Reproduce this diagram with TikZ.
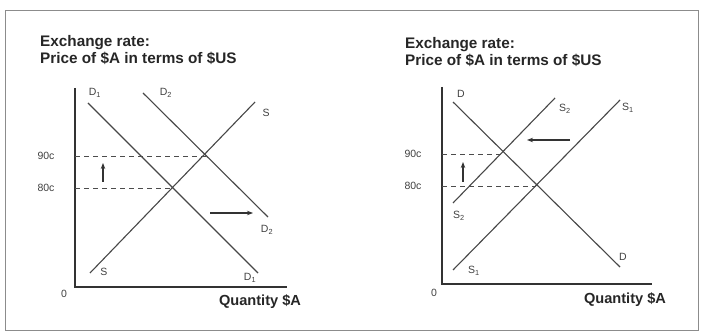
\documentclass[tikz,border=0pt]{standalone}
\usepackage{fontspec}
\setmainfont{Liberation Sans}
\usetikzlibrary{arrows.meta}
\begin{document}
\begin{tikzpicture}[x=1pt,y=-1pt,
  curve/.style={draw=black!72, line width=1.1pt},
  axis/.style={draw=black!80, line width=1.3pt},
  guide/.style={draw=black!70, line width=0.9pt, dash pattern=on 5pt off 4pt},
  shiftarrow/.style={draw=black!80, line width=1.1pt, -{Stealth[length=6pt,width=4.5pt]}},
  lab/.style={font=\fontsize{10.5}{12}\selectfont, text=black!75, inner sep=0pt},
  ttl/.style={font=\fontsize{15.3}{17.5}\selectfont\bfseries, text=black!85, align=left, inner sep=0pt, anchor=north west},
  qty/.style={font=\fontsize{14.6}{16}\selectfont\bfseries, text=black!85, inner sep=0pt},
]
\useasboundingbox (0,0) rectangle (701,336);
\draw[black!45, line width=0.9pt] (5,10) rectangle (698,330);

% ---------- left chart ----------
\node[ttl] (ltitle) at (40,35) {Exchange rate:\\Price of \$A in terms of \$US};
\coordinate (Ltop) at (75,88);
\coordinate (Lo) at (75,287);
\coordinate (Lx) at (287,287);
\draw[axis] (Ltop) -- (Lo) -- (Lx);

\coordinate (LD1a) at (88,103);  \coordinate (LD1b) at (258,273);
\coordinate (LD2a) at (143,93);  \coordinate (LD2b) at (268,217);
\coordinate (LSa) at (90,273);   \coordinate (LSb) at (255,102);
\draw[curve] (LD1a) -- (LD1b);
\draw[curve] (LD2a) -- (LD2b);
\draw[curve] (LSa) -- (LSb);

\coordinate (L90a) at (75,156);  \coordinate (L90b) at (206,156);
\coordinate (L80a) at (75,188);  \coordinate (L80b) at (172,188);
\draw[guide] (L90a) -- (L90b);
\draw[guide] (L80a) -- (L80b);

\coordinate (Lupa) at (103,182); \coordinate (Lupb) at (103,163);
\draw[shiftarrow] (Lupa) -- (Lupb);
\coordinate (Lra) at (210,213);  \coordinate (Lrb) at (253,213);
\draw[shiftarrow] (Lra) -- (Lrb);

\node[lab] (l90) at (46,156) {90c};
\node[lab] (l80) at (46,188) {80c};
\node[lab] (lD1t) at (95,93) {D\textsubscript{1}};
\node[lab] (lD2t) at (166,93) {D\textsubscript{2}};
\node[lab] (lSt) at (266,113) {S};
\node[lab] (lD2b) at (267,230) {D\textsubscript{2}};
\node[lab] (lSb) at (104,272) {S};
\node[lab] (lD1b) at (250,278) {D\textsubscript{1}};
\node[lab] (l0) at (64,294) {0};
\node[qty] (lq) at (260,302) {Quantity \$A};

% ---------- right chart ----------
\node[ttl] (rtitle) at (405,37) {Exchange rate:\\Price of \$A in terms of \$US};
\coordinate (Rtop) at (442,87);
\coordinate (Ro) at (442,284);
\coordinate (Rx) at (652,284);
\draw[axis] (Rtop) -- (Ro) -- (Rx);

\coordinate (RDa) at (453,102);  \coordinate (RDb) at (620,267);
\coordinate (RS2a) at (453,203); \coordinate (RS2b) at (555,98);
\coordinate (RS1a) at (453,270); \coordinate (RS1b) at (620,100);
\draw[curve] (RDa) -- (RDb);
\draw[curve] (RS2a) -- (RS2b);
\draw[curve] (RS1a) -- (RS1b);

\coordinate (R90a) at (442,154); \coordinate (R90b) at (503,154);
\coordinate (R80a) at (442,186); \coordinate (R80b) at (536,186);
\draw[guide] (R90a) -- (R90b);
\draw[guide] (R80a) -- (R80b);

\coordinate (Rupa) at (463,182); \coordinate (Rupb) at (463,162);
\draw[shiftarrow] (Rupa) -- (Rupb);
\coordinate (Rla) at (570,140);  \coordinate (Rlb) at (527,140);
\draw[shiftarrow] (Rla) -- (Rlb);

\node[lab] (r90) at (413,154) {90c};
\node[lab] (r80) at (413,186) {80c};
\node[lab] (rDt) at (461,94) {D};
\node[lab] (rS2t) at (565,109) {S\textsubscript{2}};
\node[lab] (rS1t) at (628,108) {S\textsubscript{1}};
\node[lab] (rS2b) at (459,216) {S\textsubscript{2}};
\node[lab] (rS1b) at (474,271) {S\textsubscript{1}};
\node[lab] (rDb) at (623,257) {D};
\node[lab] (r0) at (434,293) {0};
\node[qty] (rq) at (625,300) {Quantity \$A};
\end{tikzpicture}
\end{document}
